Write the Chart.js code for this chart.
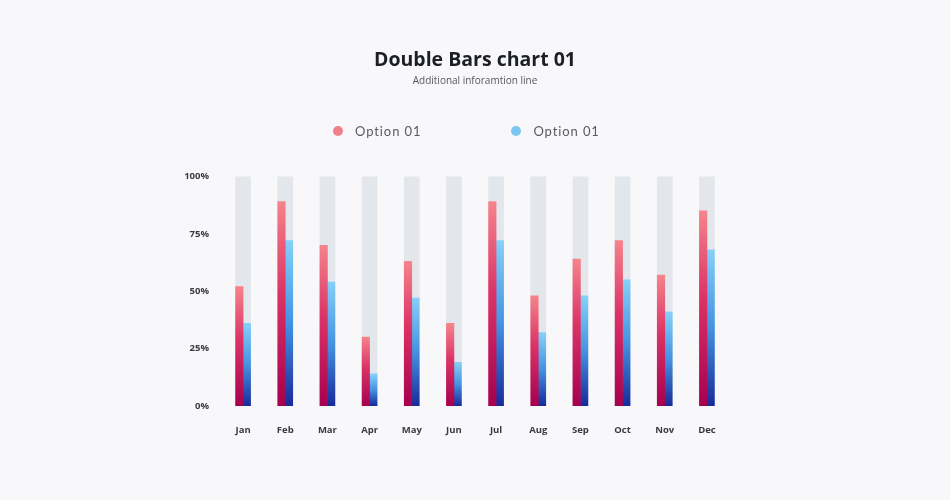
<!DOCTYPE html>
<html>
<head>
<meta charset="utf-8">
<title>Double Bars chart 01</title>
<script src="https://cdn.jsdelivr.net/npm/chart.js@4.4.1/dist/chart.umd.min.js"></script>
<style>
    html, body {
        margin: 0;
        padding: 0;
        background: #f8f8fb;
    }
    #wrap {
        position: relative;
        width: 950px;
        height: 500px;
    }
    #legend {
        position: absolute;
        top: 122px;
        left: 333px;
        display: flex;
        gap: 90px;
        font-family: "Lato", sans-serif;
        font-size: 13px;
        letter-spacing: 0.9px;
        color: #5a5a60;
    }
    .legend-item {
        display: flex;
        align-items: center;
        height: 18px;
    }
    .legend-dot {
        width: 10px;
        height: 10px;
        border-radius: 50%;
        margin-right: 12px;
    }
</style>
</head>
<body>
<div id="wrap">
    <canvas id="chart" width="950" height="500"></canvas>
    <div id="legend"></div>
</div>

<script>
// dati
const months = ["Jan", "Feb", "Mar", "Apr", "May", "Jun", "Jul", "Aug", "Sep", "Oct", "Nov", "Dec"];
const option1 = [52, 89, 70, 30, 63, 36, 89, 48, 64, 72, 57, 85];
const option2 = [36, 72, 54, 14, 47, 19, 72, 32, 48, 55, 41, 68];
const track = [100, 100, 100, 100, 100, 100, 100, 100, 100, 100, 100, 100];
const yTicks = [0, 25, 50, 75, 100];
const seriesNames = ["Option 01", "Option 01"];

// colori
const legendColors = ["#f07f87", "#7cc6f1"];
const redStops = [[0, "#f5848b"], [0.45, "#db3266"], [1, "#a6004f"]];
const blueStops = [[0, "#86d0f8"], [0.5, "#4592e2"], [1, "#182a9a"]];

// gradiente verticale per ogni barra
function barGradient(stops) {
    return function (context) {
        const chart = context.chart;
        if (!chart.chartArea || context.type !== "data") return stops[1][1];
        const y = chart.scales.y;
        const top = y.getPixelForValue(context.raw);
        const bottom = y.getPixelForValue(0);
        if (!isFinite(top) || bottom - top < 1) return stops[1][1];
        const g = chart.ctx.createLinearGradient(0, top, 0, bottom);
        stops.forEach(s => g.addColorStop(s[0], s[1]));
        return g;
    };
}

const ctx = document.getElementById("chart").getContext("2d");

const chart = new Chart(ctx, {
    type: "bar",
    data: {
        labels: months,
        datasets: [
            {
                label: seriesNames[0],
                data: option1,
                backgroundColor: barGradient(redStops),
                barThickness: 7.5,
                order: 1
            },
            {
                label: seriesNames[1],
                data: option2,
                backgroundColor: barGradient(blueStops),
                barThickness: 7.5,
                order: 1
            },
            {
                label: "track",
                data: track,
                backgroundColor: "#e3e6eb",
                barThickness: 15,
                grouped: false,
                order: 2
            }
        ]
    },
    options: {
        responsive: false,
        animation: false,
        layout: {
            padding: { top: 0, left: 0, right: 0, bottom: 54 }
        },
        plugins: {
            legend: { display: false },
            tooltip: { enabled: false },
            title: {
                display: true,
                text: "Double Bars chart 01",
                color: "#1d1f26",
                font: { family: "Open Sans", size: 19.5, weight: "bold", lineHeight: 1.2 },
                padding: { top: 49, bottom: 3 }
            },
            subtitle: {
                display: true,
                text: "Additional inforamtion line",
                color: "#55575e",
                font: { family: "Open Sans", size: 10, lineHeight: 1.2 },
                padding: { top: 0, bottom: 89 }
            }
        },
        scales: {
            x: {
                grid: { display: false },
                border: { display: false },
                afterFit: scale => { scale.height = 40; },
                ticks: {
                    color: "#3a3b40",
                    padding: 11,
                    font: { family: "Open Sans", size: 9.5, weight: "bold" }
                }
            },
            y: {
                min: 0,
                max: 100,
                grid: { display: false },
                border: { display: false },
                afterFit: scale => { scale.width = 222; },
                afterBuildTicks: scale => {
                    scale.ticks = yTicks.map(v => ({ value: v }));
                },
                ticks: {
                    color: "#3a3b40",
                    padding: 5,
                    font: { family: "Open Sans", size: 9.5, weight: "bold" },
                    callback: val => val + "%"
                }
            },
            // asse vuoto a destra, solo per centrare il titolo sulla pagina
            spacer: {
                type: "linear",
                position: "right",
                grid: { display: false },
                border: { display: false },
                ticks: { display: false },
                afterFit: scale => { scale.width = 222; }
            }
        }
    }
});

// legenda html
const legendEl = document.getElementById("legend");
seriesNames.forEach((name, i) => {
    legendEl.innerHTML += `
        <div class="legend-item">
            <span class="legend-dot" style="background:${legendColors[i]}"></span>
            <span>${name}</span>
        </div>`;
});
</script>
</body>
</html>
